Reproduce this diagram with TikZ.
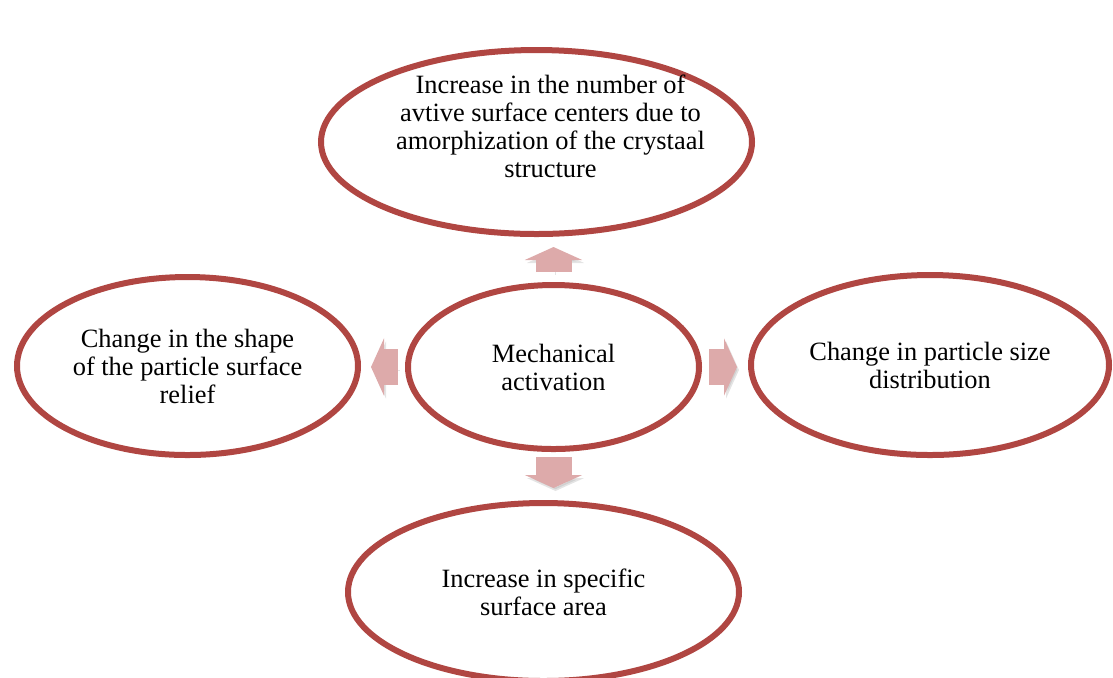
\documentclass[tikz,border=0pt]{standalone}
\usepackage{fontspec}
\setmainfont{Liberation Serif}
\usetikzlibrary{positioning,arrows.meta,shapes.geometric}
\definecolor{ringred}{RGB}{176,70,66}
\definecolor{arrowpink}{RGB}{221,170,170}

\begin{document}
\begin{tikzpicture}[
			node distance=22.5pt,
			ring/.style={ellipse, draw=ringred, line width=3pt, fill=white, inner sep=0pt, align=center, font=\fontsize{13.2pt}{14pt}\selectfont},
			ringtext/.style={align=center, inner sep=0pt, font=\fontsize{13.2pt}{14pt}\selectfont},
			fatarrow/.style={draw=arrowpink, line width=18pt, -{Triangle[length=6.5pt, width=28.5pt]},
				preaction={draw=black!35, opacity=0.3, transform canvas={shift={(1pt,-1.5pt)}}}}
		]
		\useasboundingbox (0,0) rectangle (556.5pt,-338.5pt);

		% Centre and the four effects round it
		\node (mech) [ring, minimum width=145.5pt, minimum height=82pt] at (276.75pt,-183.5pt) {Mechanical\\activation};

		\node (top) [ring, minimum width=215.5pt, minimum height=92pt, above=of mech, xshift=-8.5pt] {};
		\node (toptext) [ringtext] at ([shift={(7pt,8pt)}]top.center) {Increase in the number of\\avtive surface centers due to\\amorphization of the crystaal\\structure};

		\node (left) [ring, minimum width=170.5pt, minimum height=89pt, left=22pt of mech, yshift=0.5pt] {Change in the shape\\of the particle surface\\relief};

		\node (right) [ring, minimum width=179pt, minimum height=90pt, right=23pt of mech, yshift=1pt] {Change in particle size\\distribution};

		\node (bottom) [ring, minimum width=195.5pt, minimum height=89pt, below=24pt of mech, xshift=-5pt] {Increase in specific\\surface area};

		% Block arrows
		\draw [fatarrow, shorten <=5pt, shorten >=5pt] (mech.north) -- (mech.north |- top.south);
		\draw [fatarrow, shorten <=3.5pt, shorten >=5pt] (mech.west) -- (mech.west -| left.east);
		\draw [fatarrow, shorten <=3.5pt, shorten >=5.5pt] (mech.east) -- (mech.east -| right.west);
		\draw [fatarrow, shorten <=2.5pt, shorten >=6pt] (mech.south) -- (mech.south |- bottom.north);
	\end{tikzpicture}
\end{document}
